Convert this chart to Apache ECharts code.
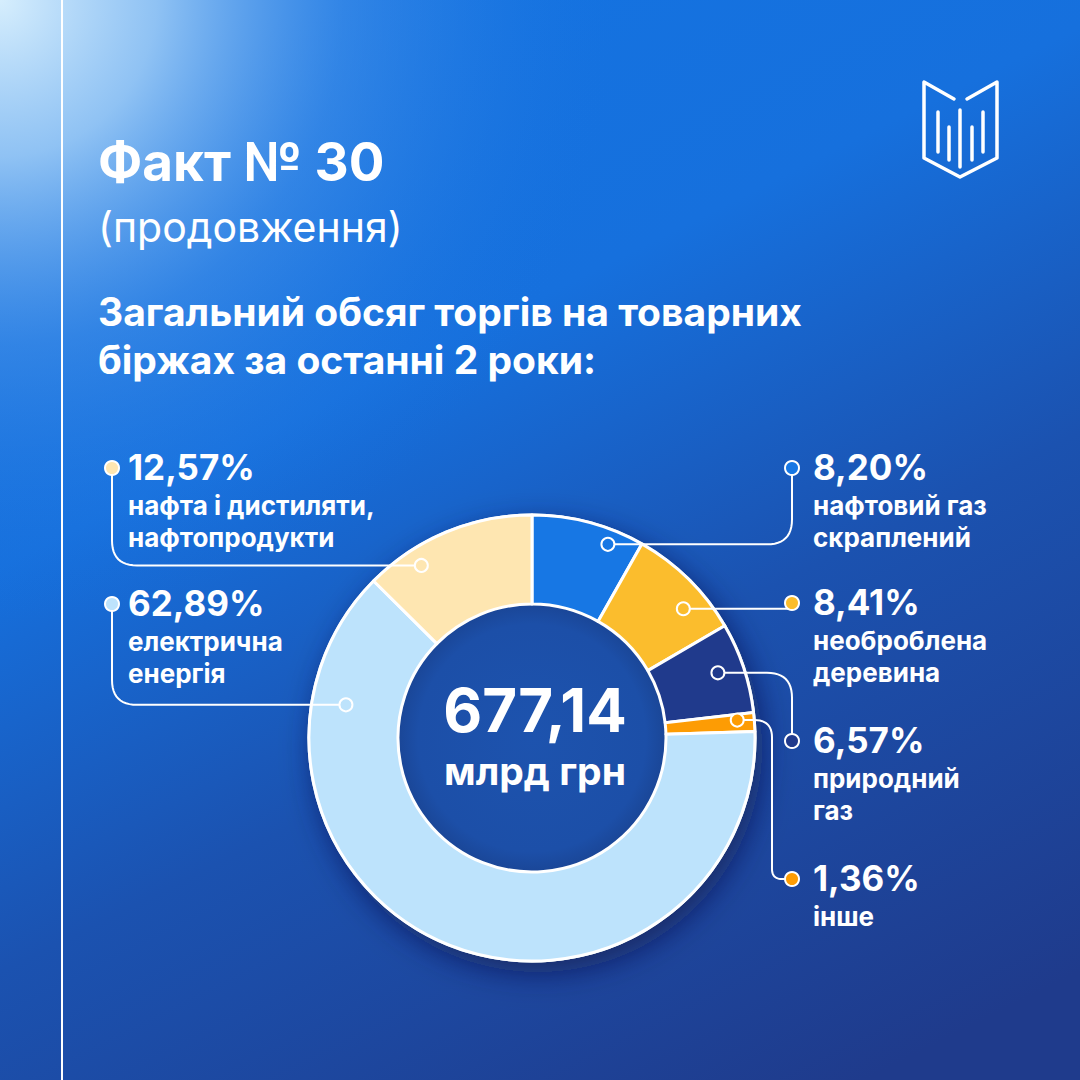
<!DOCTYPE html>
<html><head><meta charset="utf-8">
<script src="https://cdn.jsdelivr.net/npm/echarts@6/dist/echarts.min.js"></script>
<style>html,body{margin:0;padding:0;width:1080px;height:1080px;overflow:hidden;background:#1668d8}#c{width:1080px;height:1080px}</style>
</head><body><div id="c"></div>
<script>
// ---------- DATA ----------
const categories = [
  ['нафтовий газ', 'скраплений'],
  ['необроблена', 'деревина'],
  ['природний', 'газ'],
  ['інше'],
  ['електрична', 'енергія'],
  ['нафта і дистиляти,', 'нафтопродукти']
];
const shares = [8.20, 8.41, 6.57, 1.36, 62.89, 12.57];
const totalValue = 677.14;
const totalUnit = 'млрд грн';
const titleText = 'Факт № 30';
const subTitleText = '(продовження)';
const headingLines = ['Загальний обсяг торгів на товарних', 'біржах за останні 2 роки:'];

// ---------- STYLE / LAYOUT ----------
const sliceColors = ['#1777e4', '#fbbd2d', '#203a8c', '#fd9c04', '#bde3fc', '#fee6b1'];
const CX = 532, CY = 738, R0 = 134, R1 = 223;
const FONT = 'Inter';
const labelLayout = [
  { side: 'R', base: 480 },
  { side: 'R', base: 615 },
  { side: 'R', base: 753 },
  { side: 'R', base: 891, elbowX: 772 },
  { side: 'L', base: 616 },
  { side: 'L', base: 480 }
];
const anchorLayout = [
  { f: 0.725, r: 208 }, { f: 0.66, r: 199 }, { f: 0.46, r: 197 },
  { f: 0.32, r: 206 }, { f: 0.847, r: 189 }, { f: 0.278, r: 205 }
];
const SIDE = { L: { dotX: 112, textX: 128 }, R: { dotX: 792, textX: 813 } };

function fmt(v) { return v.toFixed(2).replace('.', ','); }

// polyline points with rounded corners
function roundedPoints(pts, rad) {
  const out = [pts[0]];
  for (let i = 1; i < pts.length - 1; i++) {
    const p = pts[i], a = pts[i - 1], b = pts[i + 1];
    const ax = a[0] - p[0], ay = a[1] - p[1], bx = b[0] - p[0], by = b[1] - p[1];
    const la = Math.hypot(ax, ay), lb = Math.hypot(bx, by);
    const cross = ax * by - ay * bx;
    if (la < 1e-6 || lb < 1e-6 || Math.abs(cross) < 1e-6) { out.push(p); continue; }
    const r = Math.min(rad, la / 2, lb / 2);
    const p1 = [p[0] + ax / la * r, p[1] + ay / la * r];
    const p2 = [p[0] + bx / lb * r, p[1] + by / lb * r];
    for (let k = 0; k <= 12; k++) {
      const t = k / 12;
      const x = (1 - t) * (1 - t) * p1[0] + 2 * (1 - t) * t * p[0] + t * t * p2[0];
      const y = (1 - t) * (1 - t) * p1[1] + 2 * (1 - t) * t * p[1] + t * t * p2[1];
      out.push([x, y]);
    }
  }
  out.push(pts[pts.length - 1]);
  return out;
}

function txt(x, baseline, text, size, weight, family) {
  return {
    type: 'text', x: x, y: baseline - size * 0.36, z: 50,
    style: { text: text, fill: '#fff', font: weight + ' ' + size + 'px ' + family, align: 'left', verticalAlign: 'middle' }
  };
}

const graphics = [];
// background
graphics.push({ type: 'rect', z: -30, shape: { x: 0, y: 0, width: 1080, height: 1080 },
  style: { fill: { type: 'linear', x: 0.3, y: 0, x2: 0.8, y2: 1, colorStops: [
    { offset: 0, color: '#1473e1' }, { offset: 0.3, color: '#1670dd' }, { offset: 0.6, color: '#1b52b0' }, { offset: 1, color: '#1f3b8c' }] } } });
graphics.push({ type: 'rect', z: -29, shape: { x: 0, y: 0, width: 1080, height: 1080 },
  style: { fill: { type: 'radial', x: 0, y: 0, r: 0.58, colorStops: [
    { offset: 0, color: 'rgba(214,238,253,1)' }, { offset: 0.25, color: 'rgba(165,208,247,0.85)' },
    { offset: 0.55, color: 'rgba(85,155,236,0.45)' }, { offset: 1, color: 'rgba(21,112,224,0)' }] } } });
// vertical line
graphics.push({ type: 'line', z: -20, shape: { x1: 62, y1: 0, x2: 62, y2: 1080 }, style: { stroke: '#fff', lineWidth: 2 } });
// logo
graphics.push({ type: 'polyline', z: 5, shape: { points: [[954, 99], [924, 82], [924, 158], [960, 177], [997, 158], [997, 82], [967, 99]] },
  style: { stroke: '#fff', lineWidth: 3.5, lineCap: 'round', lineJoin: 'round', fill: null } });
[[938, 112, 152], [949, 127, 160], [960, 110, 167], [972, 127, 160], [983, 112, 152]].forEach(b => {
  graphics.push({ type: 'line', z: 5, shape: { x1: b[0], y1: b[1], x2: b[0], y2: b[2] }, style: { stroke: '#fff', lineWidth: 3.5, lineCap: 'round' } });
});
// titles
graphics.push(txt(98, 181, titleText, 53, 700, FONT));
graphics.push(txt(98, 242, subTitleText, 41, 400, FONT));
// heading as one two-line block
graphics.push({ type: 'text', z: 50, x: 98, y: 288.2, style: {
  text: headingLines.map(l => '{h|' + l + '}').join('\n'), align: 'left', verticalAlign: 'top',
  rich: { h: { fill: '#fff', font: '700 39px ' + FONT, lineHeight: 47.5 } } } });
// donut shadow / base
graphics.push({ type: 'circle', z: -5, shape: { cx: CX, cy: CY, r: R1 + 1.5 },
  style: { fill: '#ffffff', shadowBlur: 30, shadowColor: 'rgba(8,22,65,0.6)', shadowOffsetX: 6, shadowOffsetY: 10 } });
graphics.push({ type: 'circle', z: -4, shape: { cx: CX, cy: CY, r: R0 },
  style: { fill: { type: 'radial', x: 0.5, y: 0.5, r: 0.5, colorStops: [
    { offset: 0, color: '#1d53ae' }, { offset: 0.85, color: '#1c4fa8' }, { offset: 1, color: '#1a4697' }] } } });
// center text (one block)
graphics.push({ type: 'text', z: 50, x: CX + 3, y: 678.9, style: {
  text: '{a|' + fmt(totalValue) + '}\n{b|' + totalUnit + '}', align: 'center', verticalAlign: 'top',
  rich: { a: { fill: '#fff', font: '700 60px ' + FONT, lineHeight: 62, align: 'center' },
          b: { fill: '#fff', font: '700 39px ' + FONT, lineHeight: 60.1, align: 'center' } } } });

// labels, leader lines, dots
const sum = shares.reduce((a, b) => a + b, 0);
let acc = 0;
shares.forEach((v, i) => {
  const a0 = acc / sum * 360, a1 = (acc + v) / sum * 360;
  acc += v;
  const an = anchorLayout[i];
  const th = (a0 + (a1 - a0) * an.f) * Math.PI / 180;
  const ax = CX + an.r * Math.sin(th), ay = CY - an.r * Math.cos(th);
  const L = labelLayout[i], S = SIDE[L.side];
  const dotY = L.base - 12;
  let pts;
  if (L.elbowX) pts = [[ax, ay], [L.elbowX, ay], [L.elbowX, dotY], [S.dotX, dotY]];
  else pts = [[ax, ay], [S.dotX, ay], [S.dotX, dotY]];
  graphics.push({ type: 'polyline', z: 20, shape: { points: roundedPoints(pts, L.elbowX ? 20 : 25) },
    style: { stroke: '#fff', lineWidth: 2, fill: null } });
  graphics.push({ type: 'circle', z: 21, shape: { cx: ax, cy: ay, r: 6.5 }, style: { fill: sliceColors[i], stroke: '#fff', lineWidth: 2 } });
  graphics.push({ type: 'circle', z: 21, shape: { cx: S.dotX, cy: dotY, r: 7 }, style: { fill: sliceColors[i], stroke: '#fff', lineWidth: 2 } });
  // label block: percentage + description lines in one text element
  const lines = ['{p|' + fmt(v) + '%}'].concat(categories[i].map(l => '{d|' + l + '}'));
  graphics.push({ type: 'text', z: 50, x: S.textX, y: L.base - 34.35, style: {
    text: lines.join('\n'), align: 'left', verticalAlign: 'top',
    rich: { p: { fill: '#fff', font: '700 35px ' + FONT, lineHeight: 43.5 },
            d: { fill: '#fff', font: '700 26px ' + FONT, lineHeight: 32 } } } });
});

const chart = echarts.init(document.getElementById('c'), null, { renderer: 'svg', width: 1080, height: 1080 });
chart.setOption({
  animation: false,
  backgroundColor: 'transparent',
  graphic: { elements: graphics },
  series: [{
    type: 'pie', z: 2, silent: true,
    center: [CX, CY], radius: [R0, R1], startAngle: 90, clockwise: true,
    avoidLabelOverlap: false,
    label: { show: false }, labelLine: { show: false },
    itemStyle: { borderColor: '#ffffff', borderWidth: 3 },
    emphasis: { disabled: true },
    data: shares.map((v, i) => ({ value: v, name: categories[i].join(' '), itemStyle: { color: sliceColors[i] } }))
  }]
});
</script></body></html>
